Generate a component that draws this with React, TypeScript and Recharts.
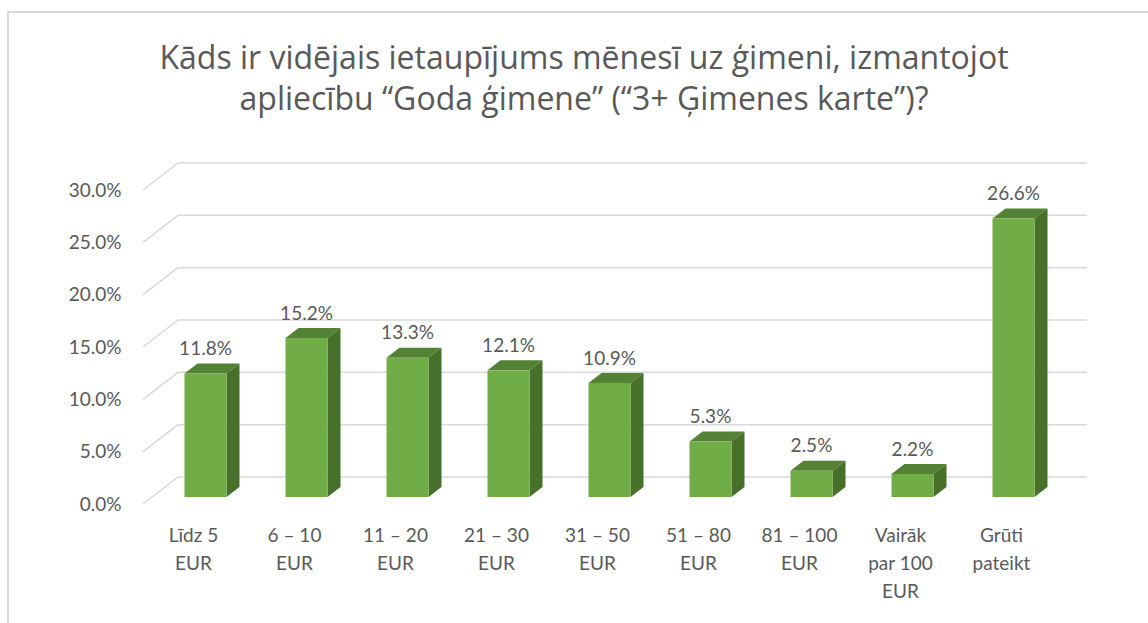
import { Bar, BarChart, CartesianGrid, LabelList, XAxis, YAxis } from "recharts";

const categories = [
  "Līdz 5\nEUR",
  "6 – 10\nEUR",
  "11 – 20\nEUR",
  "21 – 30\nEUR",
  "31 – 50\nEUR",
  "51 – 80\nEUR",
  "81 – 100\nEUR",
  "Vairāk\npar 100\nEUR",
  "Grūti\npateikt",
];
const shares = [11.8, 15.2, 13.3, 12.1, 10.9, 5.3, 2.5, 2.2, 26.6];
const yTicks = [0, 5, 10, 15, 20, 25, 30];
const titleLines = [
  "Kāds ir vidējais ietaupījums mēnesī uz ģimeni, izmantojot",
  "apliecību “Goda ģimene” (“3+ Ģimenes karte”)?",
];

const data = categories.map((name, i) => ({ name, value: shares[i] }));

const FONT = "Lato, 'Noto Sans', sans-serif";
const TITLE_FONT = "'Open Sans', 'Noto Sans', sans-serif";
const TEXT = "#595959";
const GRID = "#d9d9d9";
// offsets from the bar plane to the front edge and the back wall
const FRONT = { dx: -11.5, dy: 7 };
const BACK = { dx: 23.5, dy: -20 };
const DEPTH = { dx: 13, dy: -10 };

function gridLine(props: any) {
  const { x1, x2, y1, index } = props;
  return (
    <g key={`grid-${index}`}>
      <line
        x1={x1 + FRONT.dx}
        y1={y1 + FRONT.dy}
        x2={x1 + BACK.dx}
        y2={y1 + BACK.dy}
        stroke={GRID}
        strokeWidth={1.5}
      />
      <line
        x1={x1 + BACK.dx}
        y1={y1 + BACK.dy}
        x2={x2 + BACK.dx}
        y2={y1 + BACK.dy}
        stroke={GRID}
        strokeWidth={1.5}
      />
    </g>
  );
}

function Box(props: any) {
  const { x, y, width: w, height: h } = props;
  const { dx, dy } = DEPTH;
  return (
    <g>
      <polygon
        points={`${x},${y} ${x + dx},${y + dy} ${x + w + dx},${y + dy} ${x + w},${y}`}
        fill="#548235"
      />
      <polygon
        points={`${x + w},${y} ${x + w + dx},${y + dy} ${x + w + dx},${y + h + dy} ${x + w},${y + h}`}
        fill="#47702b"
      />
      <rect x={x} y={y} width={w} height={h} fill="#70ad47" />
    </g>
  );
}

function YTick(props: any) {
  const { x, y, payload } = props;
  return (
    <text
      x={x - 33}
      y={y + FRONT.dy}
      dy="0.35em"
      textAnchor="end"
      fill={TEXT}
      fontSize={19}
      fontFamily={FONT}
    >
      {`${payload.value.toFixed(1)}%`}
    </text>
  );
}

function XTick(props: any) {
  const { x, y, payload } = props;
  const lines = String(payload.value).split("\n");
  return (
    <text
      x={x + FRONT.dx}
      y={y}
      textAnchor="middle"
      fill={TEXT}
      fontSize={19}
      fontFamily={FONT}
    >
      {lines.map((ln, i) => (
        <tspan key={i} x={x + FRONT.dx} y={y + 38 + i * 28} dy="0.35em">
          {ln}
        </tspan>
      ))}
    </text>
  );
}

function ValueLabel(props: any) {
  const { x, y, width, value } = props;
  return (
    <text
      x={x + width / 2}
      y={y - 25}
      dy="0.35em"
      textAnchor="middle"
      fill={TEXT}
      fontSize={19}
      fontFamily={FONT}
    >
      {`${Number(value).toFixed(1)}%`}
    </text>
  );
}

export default function App() {
  return (
    <div
      style={{
        position: "absolute",
        left: 0,
        top: 0,
        width: 1148,
        height: 623,
        background: "#fff",
        overflow: "hidden",
      }}
    >
      <div
        style={{
          position: "absolute",
          left: 7,
          top: 11,
          width: 1300,
          height: 800,
          border: `2px solid ${GRID}`,
        }}
      />
      <svg
        width={1148}
        height={140}
        style={{ position: "absolute", left: 0, top: 0 }}
      >
        {titleLines.map((t, i) => (
          <text
            key={i}
            x={584}
            y={69 + i * 41}
            textAnchor="middle"
            fill={TEXT}
            fontSize={32}
            fontFamily={TITLE_FONT}
          >
            {t}
          </text>
        ))}
      </svg>
      <div style={{ position: "absolute", left: 0, top: 0 }}>
        <BarChart
          width={1148}
          height={623}
          data={data}
          margin={{ top: 183, right: 84.5, bottom: 26, left: 94.5 }}
        >
          <CartesianGrid vertical={false} horizontal={gridLine} />
          <YAxis
            type="number"
            domain={[0, 30]}
            ticks={yTicks}
            width={60}
            axisLine={false}
            tickLine={false}
            tickSize={0}
            tickMargin={0}
            tick={<YTick />}
          />
          <XAxis
            dataKey="name"
            height={100}
            interval={0}
            axisLine={false}
            tickLine={false}
            tickSize={0}
            tickMargin={0}
            tick={<XTick />}
          />
          <Bar
            dataKey="value"
            barSize={42}
            shape={<Box />}
            isAnimationActive={false}
          >
            <LabelList dataKey="value" content={<ValueLabel />} />
          </Bar>
        </BarChart>
      </div>
    </div>
  );
}
